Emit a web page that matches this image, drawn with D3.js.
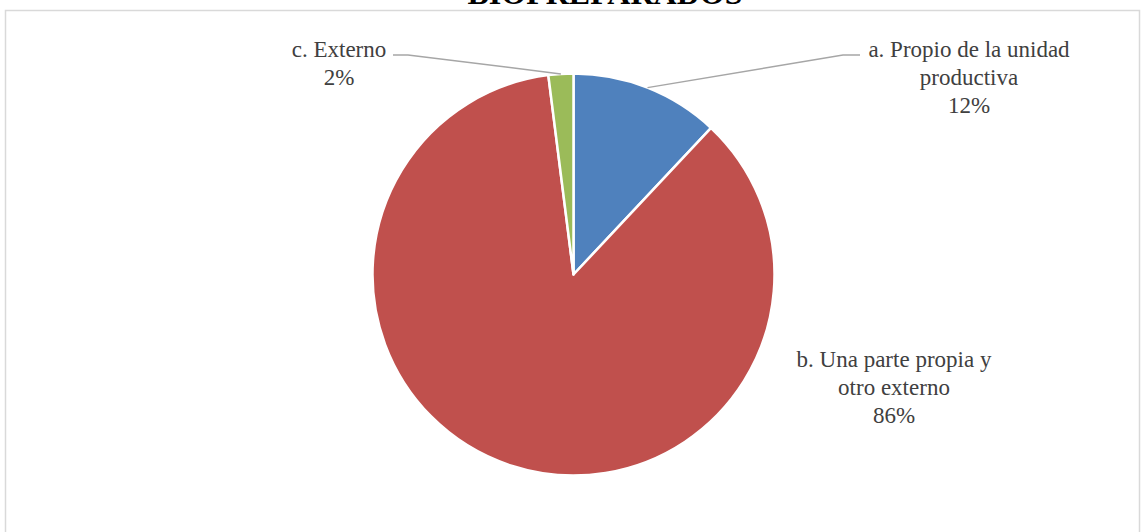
<!DOCTYPE html>
<html>
<head>
<meta charset="utf-8">
<script src="https://cdn.jsdelivr.net/npm/d3@7"></script>
<style>
  html, body { margin: 0; padding: 0; background: #fff; }
  svg { display: block; }
</style>
</head>
<body>
<svg id="chart" width="1141" height="532"></svg>
<script>
// Origen de los biopreparados
const categories = ["a. Propio de la unidad productiva", "b. Una parte propia y otro externo", "c. Externo"];
const values = [12, 86, 2];
const colors = ["#4F81BD", "#C0504D", "#9BBB59"];
const labelLines = [
  ["a. Propio de la unidad", "productiva", "12%"],
  ["b. Una parte propia y", "otro externo", "86%"],
  ["c. Externo", "2%"]
];
const title = "BIOPREPARADOS";

const W = 1141, H = 532;
const svg = d3.select("#chart");

// chart area frame
svg.append("rect")
  .attr("x", 5.5).attr("y", 10.5)
  .attr("width", 1134).attr("height", 560)
  .attr("fill", "none")
  .attr("stroke", "#D9D9D9")
  .attr("stroke-width", 1.5);

// title (partly above the visible area)
svg.append("text")
  .attr("x", 605).attr("y", 4)
  .attr("text-anchor", "middle")
  .attr("font-family", "'Liberation Serif', 'Times New Roman', serif")
  .attr("font-weight", "bold")
  .attr("font-size", 32)
  .attr("fill", "#000")
  .text(title);

const cx = 573.5, cy = 274.5, r = 201;
const g = svg.append("g").attr("transform", `translate(${cx},${cy})`);

const pie = d3.pie().sort(null).value(d => d);
const arcs = pie(values);
const arc = d3.arc().innerRadius(0).outerRadius(r);

g.selectAll("path.slice")
  .data(arcs)
  .join("path")
  .attr("class", "slice")
  .attr("d", arc)
  .attr("fill", (d, i) => colors[i])
  .attr("stroke", "#fff")
  .attr("stroke-width", 2.5)
  .attr("stroke-linejoin", "round");

// leader lines: from slice edge midpoint to label
const outer = d3.arc().innerRadius(r).outerRadius(r);
const leaders = [
  { i: 0, pts: [[843, 55], [860, 55]] },
  { i: 2, pts: [[408, 55], [393, 55]] }
];
leaders.forEach(L => {
  const c = outer.centroid(arcs[L.i]);
  const p0 = [cx + c[0], cy + c[1]];
  svg.append("path")
    .attr("d", d3.line()([p0, ...L.pts]))
    .attr("fill", "none")
    .attr("stroke", "#A6A6A6")
    .attr("stroke-width", 1.5);
});

// data labels
const labelPos = [
  { x: 969, y: 57 },
  { x: 894, y: 367 },
  { x: 339, y: 57 }
];
const lineH = 28;
labelLines.forEach((lines, i) => {
  const t = svg.append("text")
    .attr("text-anchor", "middle")
    .attr("font-family", "'Liberation Serif', 'Times New Roman', serif")
    .attr("font-size", 23)
    .attr("fill", "#404040");
  lines.forEach((s, k) => {
    t.append("tspan")
      .attr("x", labelPos[i].x)
      .attr("y", labelPos[i].y + k * lineH)
      .text(s);
  });
});
</script>
</body>
</html>
